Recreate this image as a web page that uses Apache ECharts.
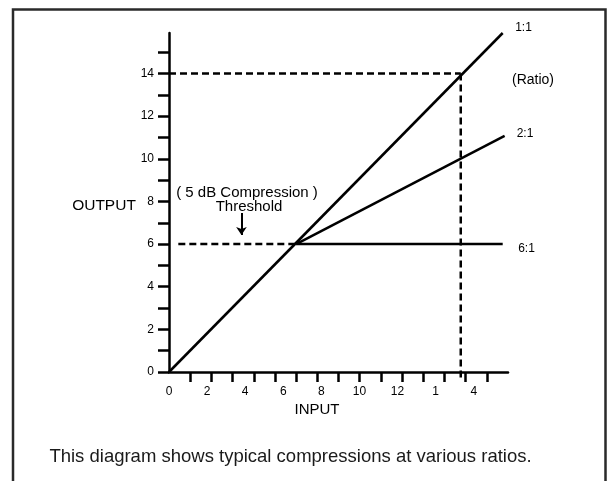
<!DOCTYPE html>
<html>
<head>
<meta charset="utf-8">
<script src="https://cdn.jsdelivr.net/npm/echarts@6/dist/echarts.min.js"></script>
<style>
	html, body { margin: 0; padding: 0; background: #fff; }
	#main { width: 615px; height: 481px; }
</style>
</head>
<body>
<div id="main"></div>
<script>
// tick values / labels
const xTicks = [1, 2, 3, 4, 5, 6, 7, 8, 9, 10, 11, 12, 13, 14, 15];
const yTicks = [0, 1, 2, 3, 4, 5, 6, 7, 8, 9, 10, 11, 12, 13, 14, 15];
const yTickLabels = [0, 2, 4, 6, 8, 10, 12, 14];
const xTickLabels = ['0', '2', '4', '6', '8', '10', '12', '1', '4'];

// compression curves (input, output)
const ratio1 = [[0, 0], [15.75, 15.9]];
const ratio2 = [[6, 6], [15.84, 11.08]];
const ratio6 = [[6, 6], [15.75, 6]];

// dashed guides
const guide14H = [[0, 14], [13.77, 14]];
const guide14V = [[13.77, 14], [13.77, -0.3]];
const threshold = [[0.44, 6], [6, 6]];
const arrowFrom = [3.42, 7.46];
const arrowTo = [3.42, 6.43];

const FONT = '"Liberation Sans", Arial, sans-serif';
const INK = '#000';

const chart = echarts.init(document.getElementById('main'), null, { renderer: 'canvas' });

function lineSeries(data, dashed) {
	return {
		type: 'line',
		data: data,
		xAxisIndex: 0,
		yAxisIndex: 0,
		symbol: 'none',
		clip: false,
		silent: true,
		lineStyle: { color: INK, width: 2.5, type: dashed ? [7, 4] : 'solid', cap: 'butt' }
	};
}

function txt(x, y, text, size, color) {
	return {
		type: 'text', x: x, y: y, silent: true,
		style: { text: text, font: size + 'px ' + FONT, fill: color || INK, align: 'center', verticalAlign: 'middle' }
	};
}

const thresholdSeries = lineSeries(threshold, true);
thresholdSeries.markLine = {
	silent: true,
	symbol: ['none', 'arrow'],
	symbolSize: 8,
	label: { show: false },
	lineStyle: { color: INK, width: 2, type: 'solid' },
	data: [[{ coord: arrowFrom }, { coord: arrowTo }]]
};

chart.setOption({
	animation: false,
	grid: { left: 169, top: 33, width: 339, height: 339, outerBoundsMode: 'none' },
	xAxis: [{
		type: 'value', min: 0, max: 16, position: 'bottom',
		axisLine: { show: true, lineStyle: { color: INK, width: 2.5 } },
		axisTick: { show: true, customValues: xTicks, length: 10, lineStyle: { color: INK, width: 2.5 } },
		axisLabel: { show: false },
		splitLine: { show: false }
	}, {
		// label row only
		type: 'value', min: 0, max: 8.9, position: 'bottom',
		axisLine: { show: false },
		axisTick: { show: false },
		splitLine: { show: false },
		axisLabel: {
			customValues: [0, 1, 2, 3, 4, 5, 6, 7, 8],
			formatter: function (v) { return xTickLabels[Math.round(v)]; },
			margin: 14, color: INK, fontSize: 12, fontFamily: FONT
		}
	}],
	yAxis: {
		type: 'value', min: 0, max: 15.9,
		axisLine: { show: true, lineStyle: { color: INK, width: 2.5 } },
		axisTick: { show: true, customValues: yTicks, length: 11, lineStyle: { color: INK, width: 2.5 } },
		axisLabel: { customValues: yTickLabels, margin: 15, color: INK, fontSize: 12, fontFamily: FONT },
		splitLine: { show: false }
	},
	series: [
		lineSeries(ratio1, false),
		lineSeries(ratio2, false),
		lineSeries(ratio6, false),
		lineSeries(guide14H, true),
		lineSeries(guide14V, true),
		thresholdSeries
	],
	graphic: [
		// frame, open at the bottom
		{
			type: 'polyline', silent: true,
			shape: { points: [[13, 481], [13, 9.5], [605.5, 9.5], [605.5, 481]] },
			style: { stroke: '#2a2a2a', lineWidth: 2.5, fill: null }
		},
		txt(523.5, 28, '1:1', 12),
		txt(533, 80, '(Ratio)', 14),
		txt(525, 134, '2:1', 12),
		txt(526.5, 248.5, '6:1', 12),
		txt(104, 206, 'OUTPUT', 15.5),
		txt(247, 193, '( 5 dB Compression )', 15),
		txt(249, 206.5, 'Threshold', 15),
		txt(317, 410, 'INPUT', 15),
		txt(290.5, 456.5, 'This diagram shows typical compressions at various ratios.', 18.5, '#1a1a1a')
	]
});
</script>
</body>
</html>
